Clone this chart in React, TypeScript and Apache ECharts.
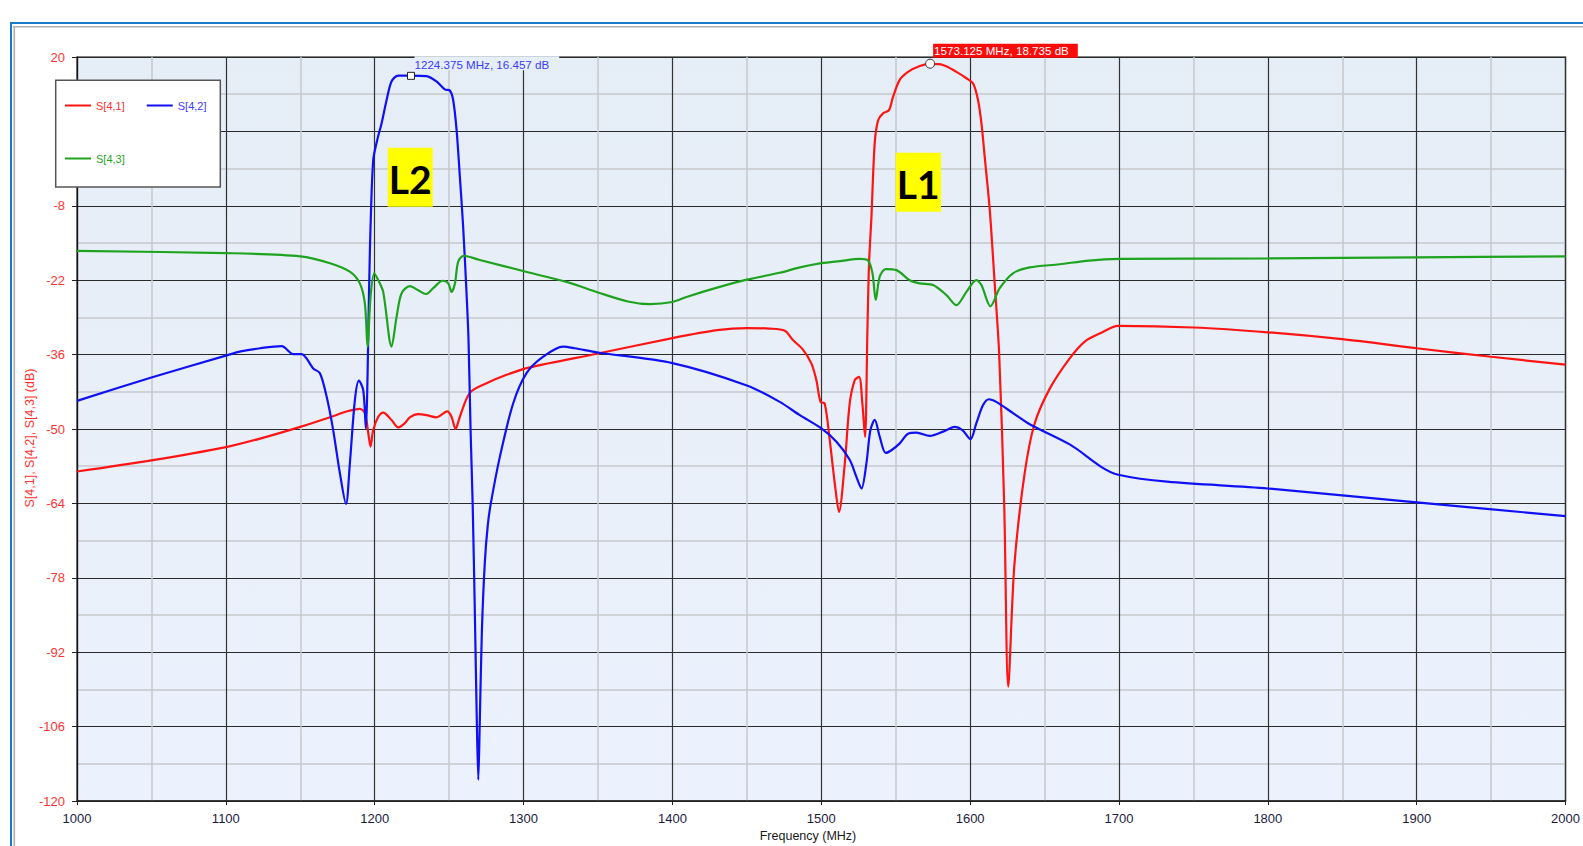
import React, { useEffect, useRef } from "react";
import * as echarts from "echarts";

// Offset so that y ticks (-120..20 step 14) start on a multiple of the interval
const OFFSET = 120;

const FONT = "'Liberation Sans', Arial, sans-serif";

const seriesNames = ["S[4,1]", "S[4,2]", "S[4,3]"];
const seriesColors = ["#ff1414", "#1010f5", "#1ea31e"];
const legendTextColors = ["#ff3030", "#3a3aff", "#25a525"];

// S[4,1] : [frequency MHz, dB]
const s41: [number, number][] = [
  [1000, -58], [1050, -55.9], [1100, -53.4], [1123, -51.8], [1150, -49.6],
  [1172, -47.6], [1181, -46.7], [1190, -46.2], [1193.4, -47], [1195.7, -50.8],
  [1197.2, -53.3], [1199, -50.2], [1202.4, -47.7], [1205.7, -46.9], [1211.3, -48.3],
  [1215.8, -49.7], [1220.3, -48.9], [1223.6, -47.8], [1229.2, -47.2], [1234.8, -47.4],
  [1241.5, -47.8], [1248.7, -46.7], [1251.6, -47.7], [1254.3, -50], [1257.2, -47.7],
  [1263.9, -43.2], [1275.1, -41.4], [1288.6, -39.8], [1304.2, -38.4], [1350, -35.8],
  [1400, -32.9], [1430, -31.4], [1450, -31], [1465, -31.1], [1475.5, -31.5],
  [1481.1, -33.3], [1487.8, -35.1], [1493.4, -37.7], [1496.7, -40.8], [1499.5, -44.9],
  [1502.3, -45.2], [1505.7, -52.1], [1509.1, -60.3], [1511.9, -65.6], [1515.8, -56.5],
  [1519.1, -45.2], [1522.5, -40.8], [1525.4, -40.2], [1527.6, -45.2], [1529.4, -51.5],
  [1531, -31.4], [1532.1, -18.8], [1533.7, -10.1], [1535.9, 3.8], [1538.2, 8.1],
  [1541.5, 9.4], [1545.5, 10], [1548.2, 12.5], [1552.7, 15.7], [1558.3, 17.2],
  [1566.2, 18.3], [1573.1, 18.7], [1581.8, 18.5], [1590.8, 17.2], [1597.5, 16],
  [1602, 15], [1605.3, 11.9], [1607.6, 7.5], [1609.8, 1.2], [1613.2, -8.8],
  [1616.5, -22.6], [1619.5, -35.8], [1622.9, -64.3], [1625.6, -98.5], [1629.7, -75.7],
  [1636.5, -58.6], [1643.2, -49.1], [1653.5, -42.4], [1666.9, -36.7], [1677.2, -33.5],
  [1687.3, -32], [1699.5, -30.6], [1750, -30.9], [1800, -31.8], [1850, -33.1],
  [1900, -34.8], [1950, -36.4], [2000, -37.9],
];

// S[4,2]
const s42: [number, number][] = [
  [1000, -44.7], [1050, -40.3], [1100, -36.2], [1110, -35.4], [1123, -34.8],
  [1137.5, -34.4], [1145.3, -35.9], [1150.9, -35.9], [1158.7, -38.6], [1163.2, -39.5],
  [1167.7, -43.9], [1172.1, -50.2], [1176.6, -58.3], [1180.7, -64.1], [1183.3, -56.5],
  [1186.7, -44.5], [1189.4, -40.9], [1192.3, -42.7], [1194.1, -49.9], [1195.2, -40],
  [1195.7, -31.4], [1196.5, -20], [1197.2, -11.9], [1199, 0.6], [1201.7, 4.4],
  [1204.6, 7.5], [1208, 11.9], [1211.3, 15.4], [1215.8, 16.5], [1224.4, 16.5],
  [1234.8, 16.4], [1241.5, 15.4], [1247.1, 13.9], [1250.5, 13.7], [1252.7, 11.9],
  [1255, 6.3], [1257.2, -2.5], [1259.4, -11.9], [1261.7, -24.5], [1263, -33],
  [1264.4, -50.2], [1265.8, -64], [1267.3, -85], [1268.6, -105], [1269.6, -116],
  [1270.6, -105], [1272, -88], [1274, -75], [1276, -68], [1278, -64],
  [1284.1, -55.2], [1293, -45.2], [1302, -39.5], [1313.2, -36.4], [1326.6, -34.5],
  [1334.4, -34.8], [1350, -35.6], [1400, -37.6], [1450, -41.8], [1472.1, -44.9],
  [1485.6, -47.4], [1500.1, -49.9], [1510.2, -52.4], [1519.1, -55.8], [1523.6, -59],
  [1527, -61.2], [1530.3, -56.5], [1533, -50.2], [1535.9, -48.3], [1539.3, -51.5],
  [1543.3, -54.5], [1547.1, -54], [1552.7, -52.7], [1558.3, -50.9], [1563.9, -50.7],
  [1572.9, -51.3], [1581.8, -50.5], [1589.7, -49.6], [1594.8, -50.2], [1600.2, -51.9],
  [1604.2, -48.9], [1608.7, -45.5], [1612.7, -44.4], [1617.6, -44.9], [1628.8, -47],
  [1640, -49.1], [1666.9, -52.9], [1699.5, -58.6], [1800, -61.2], [1900, -63.8],
  [2000, -66.4],
];

// S[4,3]
const s43: [number, number][] = [
  [1000, -16.5], [1100, -16.9], [1150, -17.5], [1170, -18.8], [1183.3, -20.4],
  [1190, -22.6], [1193.4, -26.4], [1195.2, -34.5], [1197.2, -25.1], [1199.7, -20.7],
  [1202.4, -22], [1205.7, -24.2], [1211.3, -34.5], [1214.7, -28.9], [1218, -24.5],
  [1223.6, -23.1], [1229.2, -23.9], [1234.4, -24.6], [1239.3, -23.5], [1245.6, -22.1],
  [1249.4, -22.6], [1251.6, -24.2], [1253.9, -22.6], [1256.1, -18.5], [1259.9, -17.4],
  [1270.6, -18.2], [1304.2, -20.6], [1330, -22.4], [1350, -24.3], [1370, -26],
  [1385, -26.5], [1400, -26.1], [1410, -25.1], [1430, -23.4], [1450, -21.9],
  [1472.1, -20.6], [1485.6, -19.6], [1500.1, -18.8], [1512.4, -18.4], [1525.9, -18],
  [1531.4, -18.3], [1534.4, -20.7], [1536.6, -25.7], [1539.3, -21.3], [1543.3, -19.9],
  [1550.5, -20.1], [1559.4, -22], [1566.1, -22.6], [1575.1, -22.9], [1584.1, -24.8],
  [1590.8, -26.7], [1597.5, -24.2], [1604.2, -22], [1607.6, -22.9], [1613.6, -26.9],
  [1619.9, -23.5], [1628.8, -20.7], [1640, -19.6], [1660, -19], [1680, -18.3],
  [1700, -18], [1800, -17.9], [1900, -17.7], [2000, -17.5],
];

const markerL2: [number, number] = [1224.375, 16.457];
const markerL1: [number, number] = [1573.125, 18.735];

const xMin = 1000;
const xMax = 2000;
const xStep = 100;
const yMin = -120;
const yMax = 20;
const yStep = 14;

const xTitle = "Frequency (MHz)";
const yTitle = "S[4,1], S[4,2], S[4,3] (dB)";

export default function App() {
  const ref = useRef<HTMLDivElement>(null);

  useEffect(() => {
    if (!ref.current) return;
    const chart = echarts.init(ref.current, null, { renderer: "svg" });
    const shift = (pts: [number, number][]) => pts.map(([f, v]) => [f, v + OFFSET]);

    const allData = [s41, s42, s43];

    const series: any[] = allData.map((d, i) => ({
      name: seriesNames[i],
      type: "line",
      data: shift(d),
      symbol: "none",
      showSymbol: false,
      smooth: 0.3,
      lineStyle: { color: seriesColors[i], width: 2.2 },
      itemStyle: { color: seriesColors[i] },
      z: 3,
    }));

    series[0].markPoint = {
      silent: true,
      z: 6,
      data: [
        {
          coord: [markerL1[0], markerL1[1] + OFFSET],
          symbol: "circle",
          symbolSize: 9,
          itemStyle: { color: "#ffffff", borderColor: "#333", borderWidth: 1 },
          label: {
            show: true,
            formatter: `${markerL1[0].toFixed(3)} MHz, ${markerL1[1].toFixed(3)} dB`,
            position: [8, -15],
            color: "#ffffff",
            backgroundColor: "#ff0a0a",
            padding: [1, 9, 1, 1],
            fontSize: 11.6,
            fontFamily: FONT,
          },
        },
      ],
    };
    series[1].markPoint = {
      silent: true,
      z: 6,
      data: [
        {
          coord: [markerL2[0], markerL2[1] + OFFSET],
          symbol: "rect",
          symbolSize: 7,
          itemStyle: { color: "#ffffff", borderColor: "#222", borderWidth: 1 },
          label: {
            show: true,
            formatter: `${markerL2[0].toFixed(3)} MHz, ${markerL2[1].toFixed(3)} dB`,
            position: [7.5, -15.5],
            color: "#3b3bff",
            backgroundColor: "#e6eef7",
            padding: [2, 10, 0, 0],
            fontSize: 11.6,
            fontFamily: FONT,
          },
        },
      ],
    };

    chart.setOption({
      animation: false,
      backgroundColor: "#ffffff",
      grid: {
        left: 77,
        top: 57,
        width: 1489,
        height: 744,
        show: true,
        borderColor: "#5a5a5a",
        borderWidth: 1.5,
        backgroundColor: {
          type: "linear",
          x: 0,
          y: 0,
          x2: 0,
          y2: 1,
          colorStops: [
            { offset: 0, color: "#e5edf6" },
            { offset: 1, color: "#ecf2fd" },
          ],
        },
      },
      xAxis: {
        type: "value",
        min: xMin,
        max: xMax,
        interval: xStep,
        axisLine: { show: true, lineStyle: { color: "#222", width: 1.5 } },
        axisTick: { show: true, length: 4, lineStyle: { color: "#222", width: 1 } },
        axisLabel: {
          color: "#1c1c40",
          fontSize: 13,
          fontFamily: FONT,
          margin: 11,
          formatter: (v: number) => String(v),
        },
        splitLine: { show: true, lineStyle: { color: "#333", width: 1.2 } },
        minorTick: { show: false, splitNumber: 2 },
        minorSplitLine: { show: true, lineStyle: { color: "#c6c8cc", width: 1.5 } },
      },
      yAxis: {
        type: "value",
        min: yMin + OFFSET,
        max: yMax + OFFSET,
        interval: yStep,
        axisLine: { show: true, lineStyle: { color: "#111", width: 1.2 } },
        axisTick: { show: true, length: 5, lineStyle: { color: "#222", width: 1 } },
        axisLabel: {
          color: "#ff3333",
          fontSize: 13,
          fontFamily: FONT,
          margin: 12,
          formatter: (v: number) => String(Math.round(v - OFFSET)),
        },
        splitLine: { show: true, lineStyle: { color: "#2a2a2a", width: 1.2 } },
        minorTick: { show: false, splitNumber: 2 },
        minorSplitLine: { show: true, lineStyle: { color: "#c6c8cc", width: 1.5 } },
      },
      legend: [
        {
          z: 110,
          left: 65,
          top: 100,
          orient: "horizontal",
          icon: "rect",
          itemWidth: 26,
          itemHeight: 2,
          itemGap: 22,
          padding: 0,
          selectedMode: false,
          textStyle: { fontSize: 11, fontFamily: FONT },
          data: [
            { name: seriesNames[0], textStyle: { color: legendTextColors[0] } },
            { name: seriesNames[1], textStyle: { color: legendTextColors[1] } },
          ],
        },
        {
          z: 110,
          left: 65,
          top: 153,
          orient: "horizontal",
          icon: "rect",
          itemWidth: 26,
          itemHeight: 2,
          padding: 0,
          selectedMode: false,
          textStyle: { fontSize: 11, fontFamily: FONT },
          data: [{ name: seriesNames[2], textStyle: { color: legendTextColors[2] } }],
        },
      ],
      graphic: [
        // window frame
        { type: "rect", z: 50, shape: { x: 11, y: 22, width: 1572, height: 2 }, style: { fill: "#1b79c9" } },
        { type: "rect", z: 50, shape: { x: 10, y: 22, width: 2, height: 824 }, style: { fill: "#1b79c9" } },
        { type: "rect", z: 50, shape: { x: 13, y: 26, width: 1570, height: 1.6 }, style: { fill: "#b0b0b0" } },
        { type: "rect", z: 50, shape: { x: 13.5, y: 26, width: 1.6, height: 820 }, style: { fill: "#b0b0b0" } },
        // legend box
        {
          type: "rect",
          z: 100,
          shape: { x: 55.7, y: 80.3, width: 164.6, height: 106.7 },
          style: { fill: "#ffffff", stroke: "#555", lineWidth: 1.5 },
        },
        // L2 / L1 annotation boxes
        { type: "rect", z: 60, shape: { x: 387.7, y: 147.7, width: 45, height: 59 }, style: { fill: "#ffff00" } },
        {
          type: "text",
          z: 61,
          x: 410.2,
          y: 178.5,
          style: {
            text: "L2",
            fill: "#000",
            font: "bold 39px Lato, 'Open Sans', sans-serif",
            textAlign: "center",
            textVerticalAlign: "middle",
          },
        },
        { type: "rect", z: 60, shape: { x: 895.7, y: 152.7, width: 45.3, height: 59 }, style: { fill: "#ffff00" } },
        {
          type: "text",
          z: 61,
          x: 918.3,
          y: 183.5,
          style: {
            text: "L1",
            fill: "#000",
            font: "bold 39px Lato, 'Open Sans', sans-serif",
            textAlign: "center",
            textVerticalAlign: "middle",
          },
        },
        // axis titles
        {
          type: "text",
          z: 60,
          x: 808,
          y: 836,
          style: {
            text: xTitle,
            fill: "#1a1a1a",
            font: `12.5px ${FONT}`,
            textAlign: "center",
            textVerticalAlign: "middle",
          },
        },
        {
          type: "text",
          z: 60,
          x: 30,
          y: 438,
          rotation: Math.PI / 2,
          style: {
            text: yTitle,
            fill: "#ff3333",
            font: `12.5px ${FONT}`,
            textAlign: "center",
            textVerticalAlign: "middle",
          },
        },
      ],
      series,
    });
    return () => chart.dispose();
  }, []);

  return (
    <div
      ref={ref}
      style={{ position: "absolute", left: 0, top: 0, width: 1583, height: 846, background: "#fff" }}
    />
  );
}
